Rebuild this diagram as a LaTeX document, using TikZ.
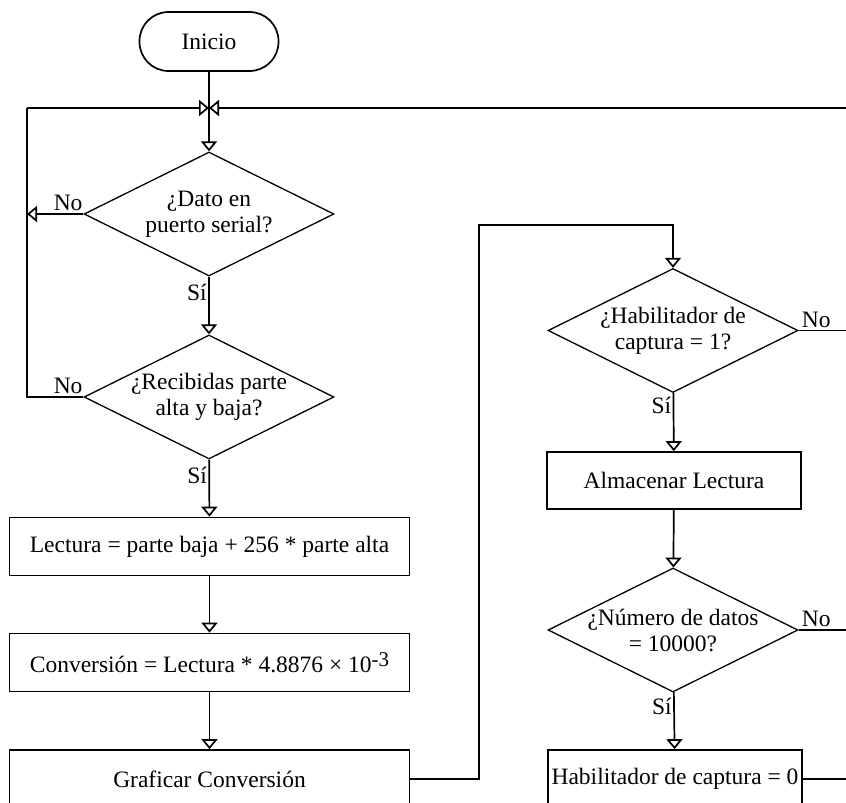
\documentclass[tikz,border=0pt]{standalone}
\usepackage{fontspec}
\setmainfont{Liberation Serif}
\usepackage{tikz}
\usetikzlibrary{shapes.geometric, arrows.meta}
\tikzstyle{line} = [line width=1.7pt]
\tikzstyle{arrow} = [line, -{Triangle[open, length=10pt, width=16pt]}]
\tikzstyle{startstop} = [rectangle, rounded corners=29pt, draw, line width=1.7pt, minimum width=139pt, minimum height=59pt]
\tikzstyle{process} = [rectangle, draw, line width=1.7pt, minimum height=58pt, inner sep=0pt]
\tikzstyle{decision} = [diamond, draw, line width=1.3pt, aspect=2, inner xsep=-14pt, inner ysep=0pt, minimum width=250pt, minimum height=124pt, align=center]

\begin{document}
\begin{tikzpicture}[x=1pt, y=-1pt, font=\fontsize{23.5}{26}\selectfont]
\useasboundingbox (0,0) rectangle (846,803);
\clip (0,0) rectangle (846,803);

% left column
\node (ini) [startstop] at (209,41.5) {Inicio};
\node (dato) [decision] at (209,214) {¿Dato en\\puerto serial?};
\node (recib) [decision] at (209,397) {¿Recibidas parte\\alta y baja?};
\node (lect) [process, minimum width=400pt] at (209.5,546.5) {Lectura = parte baja + 256 * parte alta};
\node (conv) [process, minimum width=400pt] at (209.5,662.5) {Conversión = Lectura * 4.8876 × 10\raisebox{0.6ex}{\fontsize{21}{21}\selectfont -3}};
\node (graf) [process, minimum width=400pt] at (209.5,779) {Graficar Conversión};

% right column
\node (habil) [decision] at (673,330.5) {¿Habilitador de\\captura = 1?};
\node (alma) [process, minimum width=254pt, minimum height=57pt] at (674,480.5) {Almacenar Lectura};
\node (ndat) [decision] at (673,630) {¿Número de datos\\= 10000?};
\node (hab0) [process, minimum width=254pt] at (675,779) {Habilitador de captura = 0};

% corners and loose ends
\coordinate (join) at (209,108);
\coordinate (loopL) at (27,108);
\coordinate (loopR) at (846,108);
\coordinate (up) at (479,225);
\coordinate (noR1) at (846,330.5);
\coordinate (noR2) at (846,630);
\coordinate (outR) at (846,779);

\draw[arrow] (ini) -- (dato);
\draw[arrow] (loopL) -- (join);
\draw[arrow] (loopR) -- (join);
\draw[arrow] (dato.west) -- node[above, pos=0.27, inner sep=2pt] {No} (dato.west -| loopL);
\draw[line] (recib.west) -- node[above, pos=0.27, inner sep=2pt] {No} (recib.west -| loopL) -- (loopL);
\draw[arrow] (dato) -- node[left, pos=0.27, inner sep=1.5pt] {Sí} (recib);
\draw[arrow] (recib) -- node[left, pos=0.27, inner sep=1.5pt] {Sí} (lect);
\draw[arrow] (lect) -- (conv);
\draw[arrow] (conv) -- (graf);
\draw[arrow] (graf.east) -| (up) -| (habil.north);

\draw[line] (habil.east) -- node[above, pos=0.37, inner sep=2pt] {No} (noR1);
\draw[arrow] (habil) -- node[left, pos=0.22, inner sep=1.5pt] {Sí} (alma);
\draw[arrow] (alma) -- (ndat);
\draw[line] (ndat.east) -- node[above, pos=0.37, inner sep=2pt] {No} (noR2);
\draw[arrow] (ndat) -- node[left, pos=0.25, inner sep=1.5pt] {Sí} (hab0);
\draw[line] (hab0.east) -- (outR);

\end{tikzpicture}
\end{document}
